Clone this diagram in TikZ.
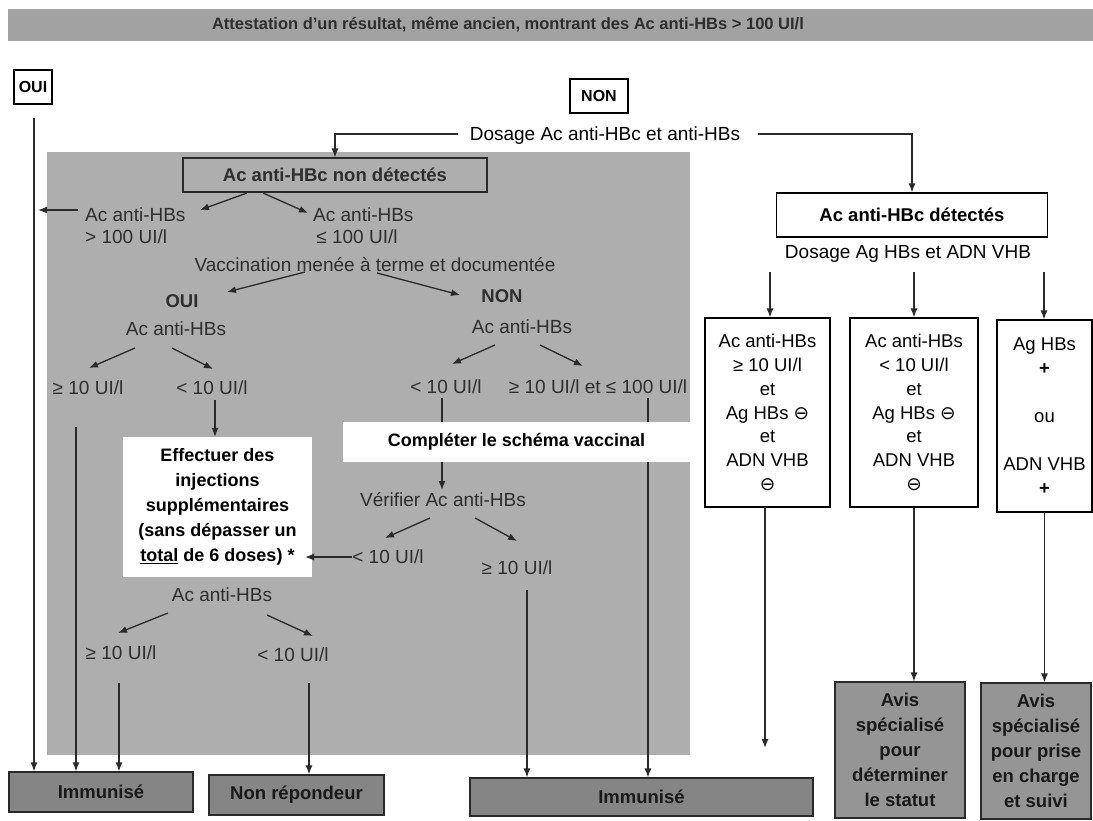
\documentclass[tikz,border=0pt]{standalone}
\usepackage{fontspec}
\setmainfont{Liberation Sans}
\newfontfamily\symf{DejaVu Sans}
\usetikzlibrary{arrows.meta,calc}
\definecolor{regfill}{HTML}{AEAEAE}
\definecolor{tdark}{HTML}{2E2E2E}
\definecolor{lc}{HTML}{2A2A2A}
\definecolor{boxfill}{HTML}{858585}
\definecolor{avisfill}{HTML}{959595}
\definecolor{banfill}{HTML}{A2A2A2}
\begin{document}
\begin{tikzpicture}[x=1pt,y=-1pt,
  arr/.style={draw=lc, line width=1.3pt, -{Latex[length=9pt,width=7pt]}},
  ln/.style={draw=lc, line width=1.3pt},
  t/.style={font=\fontsize{19}{23}\selectfont, text=tdark, inner sep=0pt, align=center},
  tb/.style={font=\bfseries\fontsize{18.5}{25}\selectfont, text=tdark, inner sep=0pt, align=center},
  wbox/.style={draw=black, line width=1.2pt, fill=white, inner sep=0pt, text=black, align=center},
  whb/.style={fill=white, inner sep=0pt, text=black, align=center, font=\bfseries\fontsize{18}{25}\selectfont},
  gbox/.style={draw=lc, line width=1.2pt, fill=boxfill, inner sep=0pt, text=black!90, align=center, font=\bfseries\fontsize{18.5}{25}\selectfont},
  abox/.style={gbox, fill=avisfill},
  banner/.style={fill=banfill, inner sep=0pt},
  bantext/.style={inner sep=0pt, text=tdark, font=\bfseries\fontsize{16.5}{18}\selectfont}
]
\useasboundingbox (0,0) rectangle (1093,820);
\fill[white] (0,0) rectangle (1093,820);

% banner
\node[banner, minimum width=1085pt, minimum height=32pt] (ban) at (550.5,25) {};
\node[bantext] (bant) at (508,25) {Attestation d'un résultat, même ancien, montrant des Ac anti-HBs > 100 UI/l};

% OUI / NON
\node[wbox, minimum width=38pt, minimum height=34pt, font=\bfseries\fontsize{16}{18}\selectfont] (oui) at (33,87) {OUI};
\node[wbox, minimum width=58pt, minimum height=34pt, font=\bfseries\fontsize{16}{18}\selectfont] (non) at (599,96) {NON};

\node[t, text=black] (dos) at (605,136) {Dosage Ac anti-HBc et anti-HBs};

% grey region
\fill[regfill] (47,152) rectangle (690,755);

\node[wbox, fill=regfill, draw=lc, text=tdark, minimum width=304pt, minimum height=34pt, font=\bfseries\fontsize{18.5}{22}\selectfont] (nd) at (335,175) {Ac anti-HBc non détectés};
\node[wbox, minimum width=271pt, minimum height=44pt, font=\bfseries\fontsize{18.5}{22}\selectfont] (det) at (912,215) {Ac anti-HBc détectés};
\node[t, text=black] (dos2) at (908,254) {Dosage Ag HBs et ADN VHB};

% left branch (non detectes)
\node[t, align=left, anchor=west, font=\fontsize{19}{22}\selectfont] (l1) at (85,226) {Ac anti-HBs\\> 100 UI/l};
\node[t, align=left, anchor=west, font=\fontsize{19}{22}\selectfont] (r1) at (313,226) {Ac anti-HBs\\\,≤ 100 UI/l};
\node[t] (vac) at (375,265) {Vaccination menée à terme et documentée};
\node[tb] (oui2) at (182,301) {OUI};
\node[t] (acO) at (176,329) {Ac anti-HBs};
\node[t] (ge1) at (88,388) {≥ 10 UI/l};
\node[t] (lt1) at (212,388) {< 10 UI/l};
\node[tb] (non2) at (502,296) {NON};
\node[t] (acN) at (522,327) {Ac anti-HBs};
\node[t] (lt2) at (446,387) {< 10 UI/l};
\node[t] (geN) at (598,387) {≥ 10 UI/l et ≤ 100 UI/l};
\node[whb, minimum width=347pt, minimum height=40pt] (comp) at (516.5,442) {Compléter le schéma vaccinal};
\node[t] (ver) at (443,500) {Vérifier Ac anti-HBs};
\node[t] (lt3) at (388,557) {< 10 UI/l};
\node[t] (ge3) at (517,568) {≥ 10 UI/l};
\node[whb, minimum width=189pt, minimum height=140pt] (eff) at (217.5,507) {Effectuer des\\injections\\supplémentaires\\(sans dépasser un\\\underline{total} de 6 doses) *};
\node[t] (acE) at (222,595) {Ac anti-HBs};
\node[t] (ge4) at (121,653) {≥ 10 UI/l};
\node[t] (lt4) at (293,655) {< 10 UI/l};

% right boxes
\node[wbox, minimum width=125pt, minimum height=189pt, font=\fontsize{18.5}{23.7}\selectfont] (bA) at (767.5,412.5) {Ac anti-HBs\\≥ 10 UI/l\\et\\Ag HBs {\symf ⊖}\\et\\ADN VHB\\{\symf ⊖}};
\node[wbox, minimum width=128pt, minimum height=189pt, font=\fontsize{18.5}{23.7}\selectfont] (bB) at (914,412.5) {Ac anti-HBs\\< 10 UI/l\\et\\Ag HBs {\symf ⊖}\\et\\ADN VHB\\{\symf ⊖}};
\node[wbox, minimum width=95pt, minimum height=192pt, font=\fontsize{18.5}{24}\selectfont] (bC) at (1044.5,416) {Ag HBs\\\textbf{+}\\[24pt]ou\\[24pt]ADN VHB\\\textbf{+}};

% outcome boxes
\node[abox, minimum width=130pt, minimum height=136pt] (av1) at (900,750) {Avis\\spécialisé\\pour\\déterminer\\le statut};
\node[abox, minimum width=110pt, minimum height=136pt] (av2) at (1036,751) {Avis\\spécialisé\\pour prise\\en charge\\et suivi};
\node[gbox, minimum width=184pt, minimum height=40pt] (imm1) at (101,792) {Immunisé};
\node[gbox, minimum width=175pt, minimum height=40pt] (nonr) at (296.5,795) {Non répondeur};
\node[gbox, minimum width=343pt, minimum height=38pt] (imm2) at (641.5,797) {Immunisé};

% named coordinates
\coordinate (ouiS) at (34,118);
\coordinate (dosL) at (458,134);
\coordinate (dosR) at (758,134);
\coordinate (ndA) at (247,193);  \coordinate (l1e) at (200,210);
\coordinate (ndB) at (263,193);  \coordinate (r1e) at (308,213);
\coordinate (l1w) at (78,210);   \coordinate (l1t) at (38,210);
\coordinate (vacA) at (305,272); \coordinate (ouie) at (227,292);
\coordinate (vacB) at (377,273); \coordinate (none) at (460,295);
\coordinate (acOa) at (135,348); \coordinate (ge1e) at (89,368);
\coordinate (acOb) at (172,348); \coordinate (lt1e) at (213,369);
\coordinate (lt1s) at (215,400);
\coordinate (ge1s) at (76,427);
\coordinate (acNa) at (495,345); \coordinate (lt2e) at (452,364);
\coordinate (acNb) at (540,345); \coordinate (geNe) at (583,366);
\coordinate (lt2s) at (442,398);
\coordinate (geNs) at (648,398);
\coordinate (verT) at (442,490);
\coordinate (verA) at (430,518); \coordinate (lt3e) at (385,538);
\coordinate (verB) at (475,518); \coordinate (ge3e) at (517,541);
\coordinate (lt3w) at (352,557); \coordinate (effE) at (305,557);
\coordinate (ge3s) at (527,590);
\coordinate (acEa) at (168,613); \coordinate (ge4e) at (118,633);
\coordinate (acEb) at (267,615); \coordinate (lt4e) at (313,636);
\coordinate (ge4s) at (119,683);
\coordinate (lt4s) at (309,683);
\coordinate (dA) at (770,272); \coordinate (dB) at (914,272); \coordinate (dC) at (1044,272);
\coordinate (bAs) at (765,507); \coordinate (bAe) at (765,748);

% connectors
\draw[arr] (ouiS) -- (ouiS |- imm1.north);
\draw[arr] (dosL) -| (nd.north);
\draw[arr] (dosR) -| (det.north);
\draw[arr] (ndA) -- (l1e);
\draw[arr] (ndB) -- (r1e);
\draw[arr] (l1w) -- (l1t);
\draw[arr] (vacA) -- (ouie);
\draw[arr] (vacB) -- (none);
\draw[arr] (acOa) -- (ge1e);
\draw[arr] (acOb) -- (lt1e);
\draw[arr] (lt1s) -- (lt1s |- eff.north);
\draw[arr] (ge1s) -- (ge1s |- imm1.north);
\draw[arr] (acNa) -- (lt2e);
\draw[arr] (acNb) -- (geNe);
\draw[ln] (lt2s) -- (lt2s |- comp.north);
\draw[arr] (lt2s |- comp.south) -- (verT);
\draw[ln] (geNs) -- (geNs |- comp.north);
\draw[arr] (geNs |- comp.south) -- (geNs |- imm2.north);
\draw[arr] (verA) -- (lt3e);
\draw[arr] (verB) -- (ge3e);
\draw[arr] (lt3w) -- (effE);
\draw[arr] (ge3s) -- (ge3s |- imm2.north);
\draw[arr] (acEa) -- (ge4e);
\draw[arr] (acEb) -- (lt4e);
\draw[arr] (ge4s) -- (ge4s |- imm1.north);
\draw[arr] (lt4s) -- (lt4s |- nonr.north);
\draw[arr] (dA) -- (dA |- bA.north);
\draw[arr] (dB) -- (dB |- bB.north);
\draw[arr] (dC) -- (dC |- bC.north);
\draw[arr] (bAs) -- (bAe);
\draw[arr] (bB.south) -- (bB.south |- av1.north);
\draw[arr] (bC.south) -- (bC.south |- av2.north);
\end{tikzpicture}
\end{document}
